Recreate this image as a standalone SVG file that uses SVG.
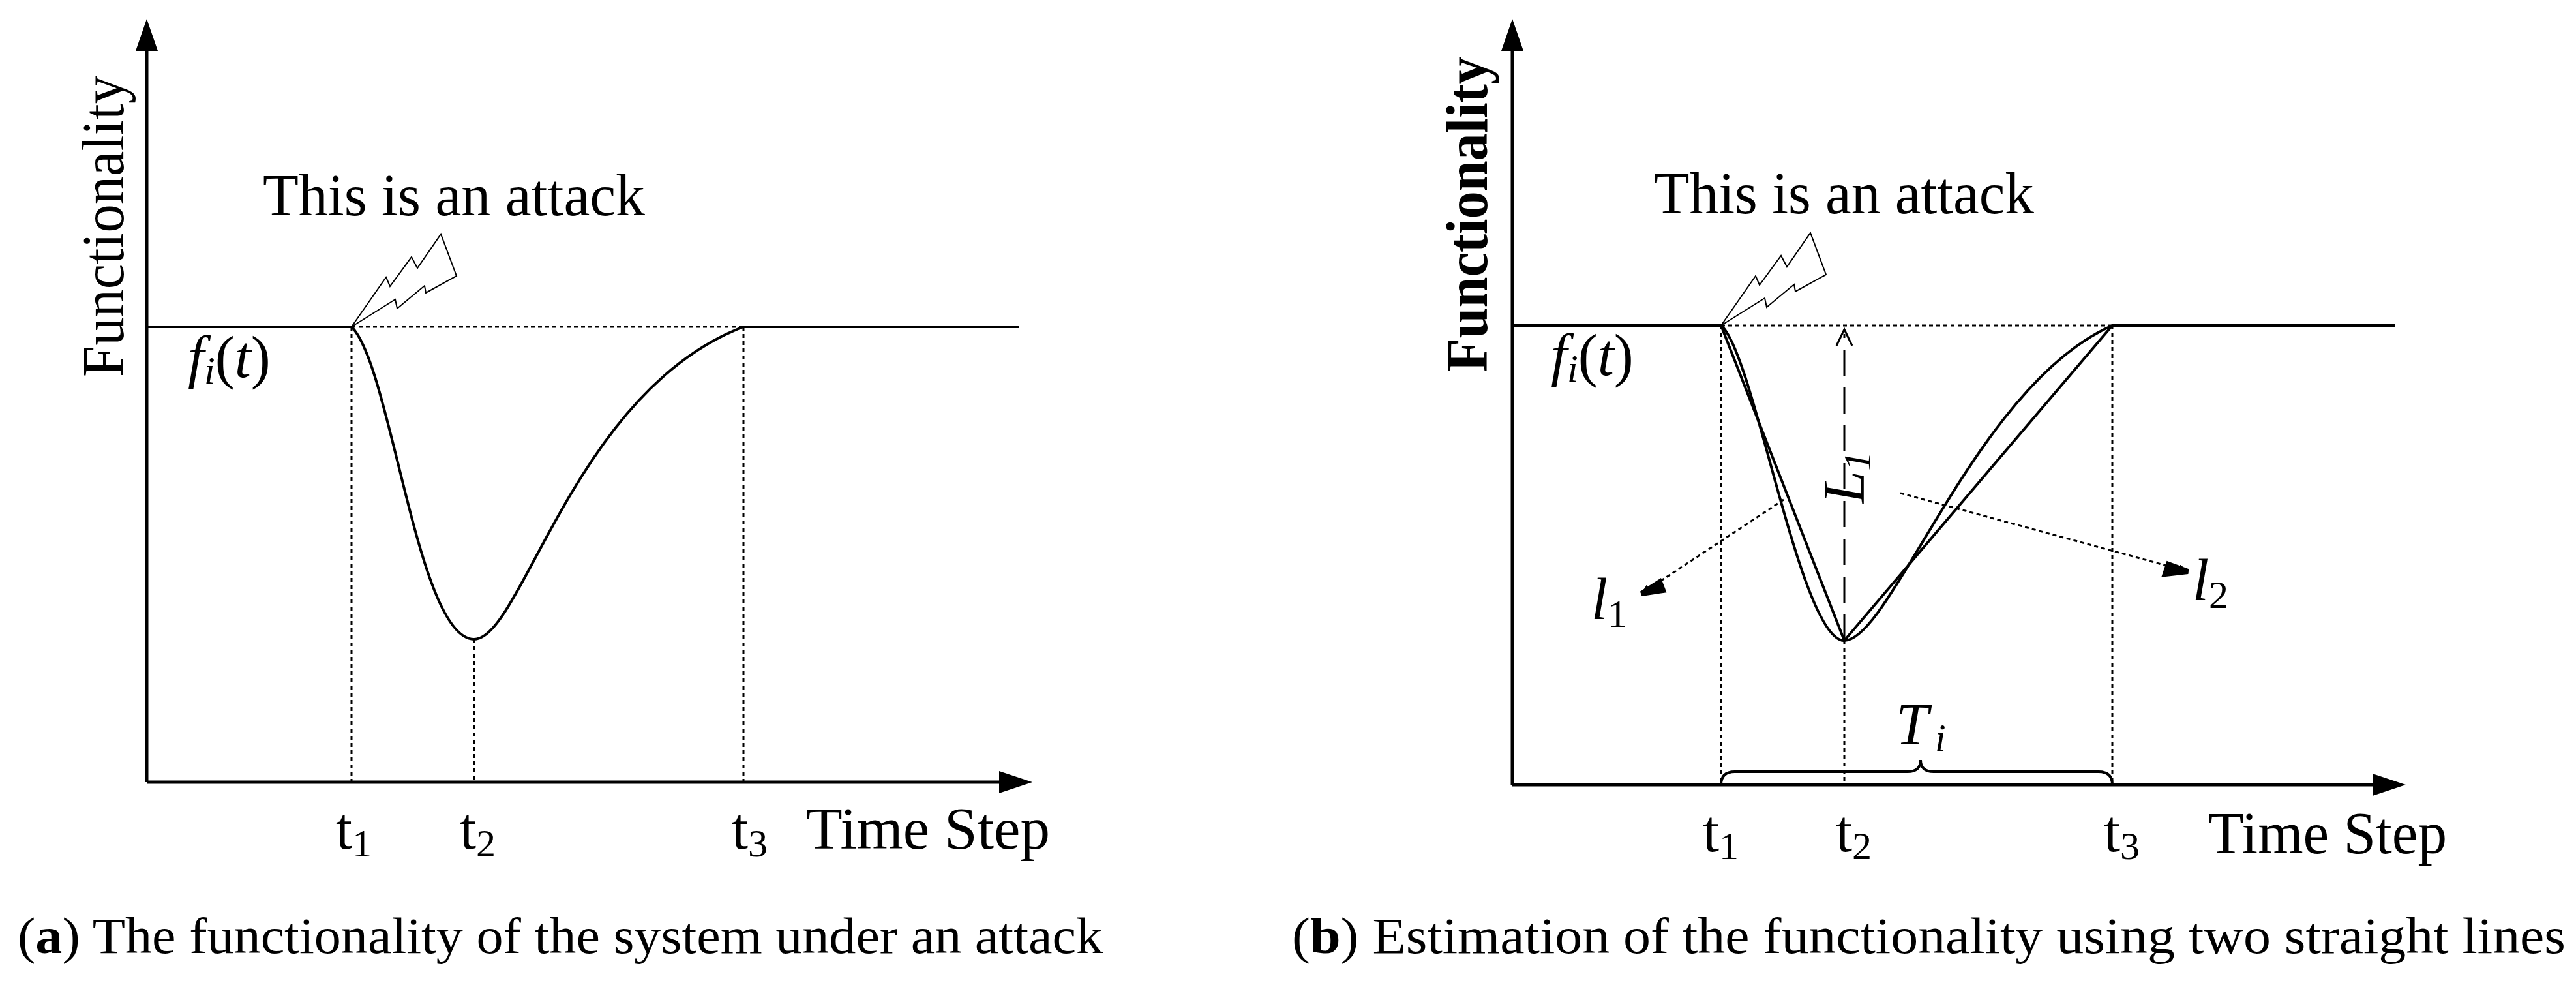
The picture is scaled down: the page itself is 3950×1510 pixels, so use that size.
<svg xmlns="http://www.w3.org/2000/svg" width="3950" height="1510" viewBox="0 0 3950 1510">
<style>
text{font-family:"Liberation Serif","Times New Roman",serif;fill:#000}
.ax{stroke:#000;stroke-width:5;fill:none}
.ln{stroke:#000;stroke-width:4;fill:none}
.dot{stroke:#000;stroke-width:3;stroke-dasharray:6 5;fill:none}
.thin{stroke:#000;stroke-width:2;fill:#fff}
.big{font-size:90px}
.it{font-style:italic}
</style>
<defs>
<marker id="ah" viewBox="0 0 10 10" refX="10" refY="5" markerWidth="10" markerHeight="10" markerUnits="userSpaceOnUse" orient="auto"><path d="M0,0 L10,5 L0,10 Z" fill="#000"/></marker>
<marker id="sh" viewBox="0 0 10 10" refX="10" refY="5" markerWidth="14" markerHeight="14" markerUnits="userSpaceOnUse" orient="auto"><path d="M0,0 L10,5 L0,10 Z" fill="#000"/></marker>
</defs>
<g id="panel-a">
<g id="axes-a">
<path class="ax" d="M225,1199 V75 M225,1199 H1535"/>
<path d="M225,29 L208,78 L242,78 Z M1583,1199 L1532,1182 L1532,1216 Z" fill="#000"/>
</g>
<g id="connectors-a">
<path class="ln" d="M225,501 H539 M1140,501 H1562"/>
<path class="dot" d="M539,501 H1140 M539,501 V1199 M727,980 V1199 M1140,501 V1199"/>
<path class="ln" d="M539,501 C600,560 640,980 727,980 C800,980 880,600 1140,501"/>
</g>
<g id="bolt-a"><path class="thin" d="M539,501 L592,425 L598,439 L631,394 L640,411 L676,359 L700,423 L653,449 L651,438 L609,473 L606,459 Z"/></g>
<text class="big" x="403" y="330" textLength="586" lengthAdjust="spacingAndGlyphs">This is an attack</text>
<text class="big" x="288" y="578"><tspan class="it">f</tspan><tspan class="it" font-size="60" dy="10">i</tspan><tspan dy="-10">(</tspan><tspan class="it">t</tspan>)</text>
<text class="big" transform="translate(189,578) rotate(-90)" textLength="462" lengthAdjust="spacingAndGlyphs">Functionality</text>
<text class="big" x="515" y="1301">t<tspan font-size="60" dy="12">1</tspan></text>
<text class="big" x="705" y="1301">t<tspan font-size="60" dy="12">2</tspan></text>
<text class="big" x="1122" y="1301">t<tspan font-size="60" dy="12">3</tspan></text>
<text class="big" x="1236" y="1301" textLength="374" lengthAdjust="spacingAndGlyphs">Time Step</text>
<text font-size="78" x="27" y="1461" textLength="1664" lengthAdjust="spacingAndGlyphs">(<tspan font-weight="bold">a</tspan>) The functionality of the system under an attack</text>
</g>
<g id="panel-b">
<g id="axes-b">
<path class="ax" d="M2319,1203 V75 M2319,1203 H3640"/>
<path d="M2319,29 L2302,78 L2336,78 Z M3689,1203 L3638,1186 L3638,1220 Z" fill="#000"/>
</g>
<g id="connectors-b">
<path class="ln" d="M2319,499 H2639 M3239,499 H3673"/>
<path class="dot" d="M2639,499 H3239 M2639,499 V1203 M2828,982 V1203 M3239,499 V1203"/>
<path class="ln" d="M2639,499 C2690,540 2760,982 2828,982 C2900,982 3030,590 3239,499"/>
<path class="ln" d="M2639,499 L2828,982 L3239,499"/>
<path d="M2828,982 V512" stroke="#000" stroke-width="3" stroke-dasharray="40 18" fill="none"/>
<path d="M2816,530 L2828,505 L2840,530" stroke="#000" stroke-width="3" fill="none"/>
<path class="dot" d="M2735,766 L2517,910" marker-end="url(#sh)"/>
<path d="M2735,766 L2517,910" stroke="none" fill="none"/>
<path class="dot" d="M2914,756 L3355,876" marker-end="url(#sh)"/>
<path d="M2545,892 L2517,910 L2550,905 Z M3325,865 L3355,876 L3320,880 Z" fill="#000" stroke="#000" stroke-width="8" stroke-linejoin="miter"/>
<path class="ln" stroke-width="3" d="M2639,1203 Q2639,1183 2660,1183 L2925,1183 Q2945,1183 2945,1165 Q2945,1183 2965,1183 L3218,1183 Q3239,1183 3239,1203"/>
</g>
<g id="bolt-b"><path class="thin" d="M2639,499 L2692,423 L2698,437 L2731,392 L2740,409 L2776,357 L2800,421 L2753,447 L2751,436 L2709,471 L2706,457 Z"/></g>
<text class="big" x="2536" y="327" textLength="583" lengthAdjust="spacingAndGlyphs">This is an attack</text>
<text class="big" x="2378" y="575"><tspan class="it">f</tspan><tspan class="it" font-size="60" dy="10">i</tspan><tspan dy="-10">(</tspan><tspan class="it">t</tspan>)</text>
<text class="big" font-weight="bold" transform="translate(2280,570) rotate(-90)" textLength="483" lengthAdjust="spacingAndGlyphs">Functionality</text>
<text class="big it" transform="translate(2858,772) rotate(-90)">L<tspan font-size="60" dy="10">1</tspan></text>
<text class="big it" x="2440" y="949">l<tspan font-size="60" font-style="normal" dy="12">1</tspan></text>
<text class="big it" x="3362" y="920">l<tspan font-size="60" font-style="normal" dy="12">2</tspan></text>
<text class="big it" x="2907" y="1141">T<tspan font-size="60" dx="10" dy="10">i</tspan></text>
<text class="big" x="2611" y="1305">t<tspan font-size="60" dy="12">1</tspan></text>
<text class="big" x="2815" y="1305">t<tspan font-size="60" dy="12">2</tspan></text>
<text class="big" x="3226" y="1305">t<tspan font-size="60" dy="12">3</tspan></text>
<text class="big" x="3386" y="1308" textLength="366" lengthAdjust="spacingAndGlyphs">Time Step</text>
<text font-size="78" x="1981" y="1461" textLength="1953" lengthAdjust="spacingAndGlyphs">(<tspan font-weight="bold">b</tspan>) Estimation of the functionality using two straight lines</text>
</g>
</svg>
